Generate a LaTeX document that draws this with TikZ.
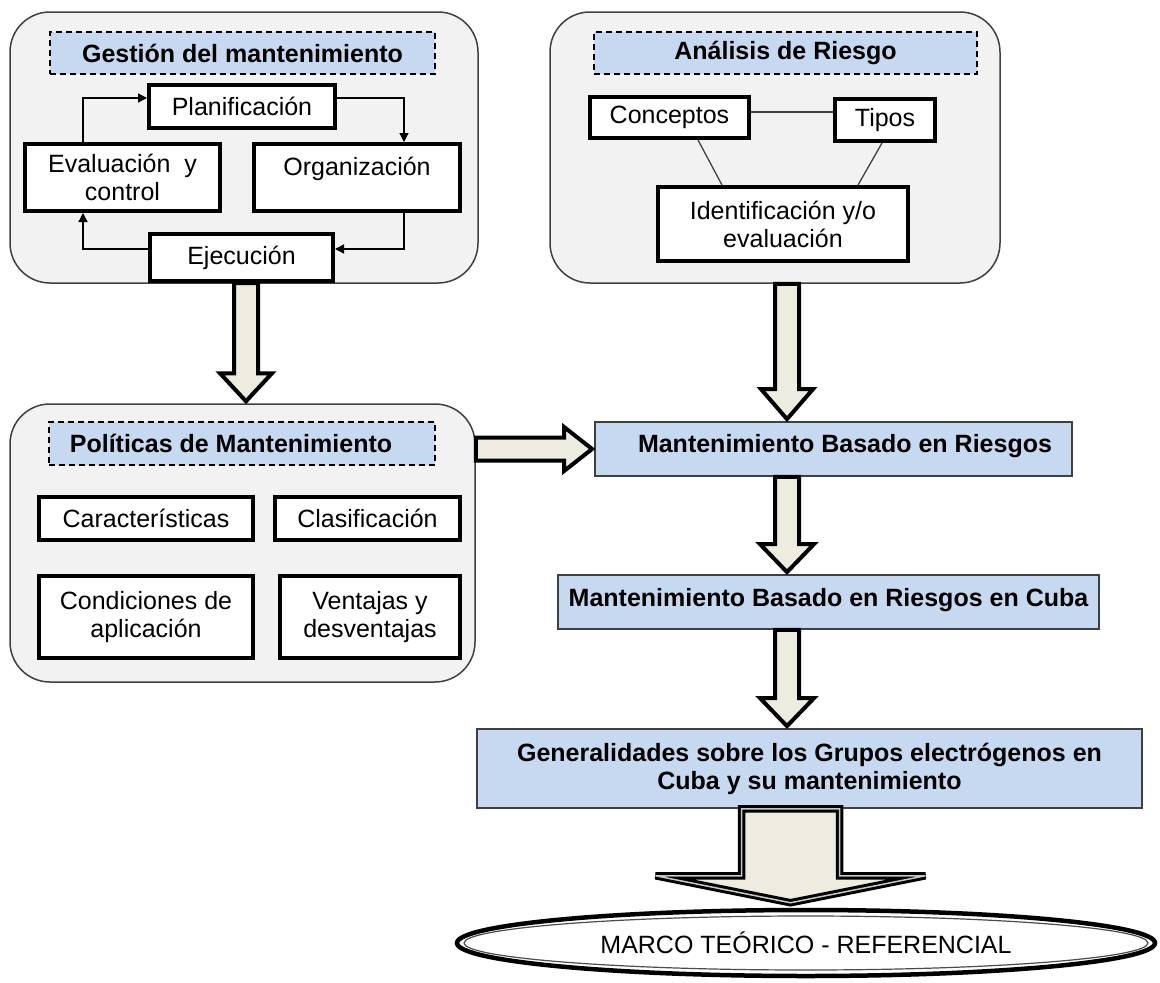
\documentclass[tikz,border=0pt]{standalone}
\usepackage{fontspec}
\setmainfont{Liberation Sans}
\usetikzlibrary{calc,shapes.geometric,arrows.meta}
\definecolor{cont}{HTML}{F2F2F2}
\definecolor{hblue}{HTML}{C6D9F1}
\definecolor{beige}{HTML}{EEECE1}
\definecolor{edgec}{HTML}{404040}
\newcommand\bigf{\fontsize{25pt}{28pt}\selectfont}
\tikzset{
 container/.style={draw=edgec, line width=1.5pt, fill=cont, rounded corners=40pt, inner sep=0pt},
 header/.style={draw=black, dash pattern=on 6pt off 4pt, line width=1.5pt, fill=hblue, font=\bigf\bfseries, inner sep=0pt},
 wbox/.style={draw=black, line width=4pt, fill=white, align=center, inner sep=2pt, font=\bigf},
 bbox/.style={draw=edgec, line width=1.8pt, fill=hblue, font=\bigf\bfseries, align=center, inner sep=2pt},
 sm/.style={line width=1.3pt, -{Triangle[length=9pt,width=9pt]}},
 ln/.style={line width=1.3pt, draw=edgec},
 fatarr/.style={draw=black, line width=4pt, fill=beige, line join=miter},
 bigarr/.style={draw=black, fill=beige, line width=3pt, double=gray!45, double distance=1.5pt, line join=miter},
 ovalbox/.style={ellipse, draw=black, line width=4.5pt, fill=white, inner sep=0pt, font=\bigf},
 ovalin/.style={line width=1.2pt, draw=gray!60!black},
}
% #1 style, #2 start, #3 end, #4 half shaft, #5 half head, #6 head length
\newcommand\fatdown[6]{%
  \draw[#1] let \p1=#2, \p2=#3 in
   (\x1-#4pt,\y1) -- (\x1-#4pt,\y2+#6pt) -- (\x1-#5pt,\y2+#6pt) -- (\x1,\y2)
   -- (\x1+#5pt,\y2+#6pt) -- (\x1+#4pt,\y2+#6pt) -- (\x1+#4pt,\y1) -- cycle;}
\newcommand\fatright[6]{%
  \draw[#1] let \p1=#2, \p2=#3 in
   (\x1,\y1+#4pt) -- (\x2-#6pt,\y1+#4pt) -- (\x2-#6pt,\y1+#5pt) -- (\x2,\y1)
   -- (\x2-#6pt,\y1-#5pt) -- (\x2-#6pt,\y1-#4pt) -- (\x1,\y1-#4pt) -- cycle;}
\begin{document}
\begin{tikzpicture}[x=1pt,y=-1pt]
\useasboundingbox (0,0) rectangle (1160,983);

% ---------- Gestion del mantenimiento
\node[container, minimum width=468pt, minimum height=271pt] (gest) at (244,147.5) {};
\node[header, minimum width=385pt, minimum height=42pt] (ghead) at (242.5,53) {Gestión del mantenimiento};
\node[wbox, minimum width=186pt, minimum height=43pt] (plan) at (242,106.5) {Planificación};
\node[wbox, minimum width=195pt, minimum height=67pt] (eval) at (122.5,177.5) {Evaluación\ \ y\\control};
\node[wbox, minimum width=206pt, minimum height=67pt, text depth=23pt] (org) at (357,177.5) {Organización};
\node[wbox, minimum width=183pt, minimum height=47pt] (ejec) at (241.5,257.5) {Ejecución};

\draw[sm] ($(eval.north west)+(60,0)$) |- ($(plan.west)+(0,-8.5)$);
\draw[sm] ($(plan.east)+(0,-8.5)$) -| ($(org.north east)+(-58,0)$);
\draw[sm] ($(org.south east)+(-58,0)$) |- ($(ejec.east)+(0,-8.5)$);
\draw[sm] ($(ejec.west)+(0,-8.5)$) -| ($(eval.south west)+(60,0)$);

% ---------- Analisis de Riesgo
\node[container, minimum width=450pt, minimum height=271pt] (ana) at (775,147.5) {};
\node[header, minimum width=383pt, minimum height=42pt] (ahead) at (785.5,53) {Análisis de Riesgo};
\node[wbox, minimum width=159pt, minimum height=41pt] (conc) at (669.5,117.5) {Conceptos};
\node[wbox, minimum width=100pt, minimum height=42pt] (tipos) at (885,120) {Tipos};
\node[wbox, minimum width=250pt, minimum height=74pt] (ident) at (783,224) {Identificación y/o\\evaluación};

\draw[ln] ($(conc.east)+(0,-5.5)$) -- ($(tipos.west)+(0,-8)$);
\draw[ln] ($(conc.south)+(28.5,0)$) -- ($(ident.north)+(-61,0)$);
\draw[ln] ($(tipos.south)+(-3,0)$) -- ($(ident.north)+(75,0)$);

% ---------- Politicas de Mantenimiento
\node[container, minimum width=465pt, minimum height=278pt] (pol) at (242.5,543) {};
\node[header, minimum width=386pt, minimum height=43pt] (phead) at (242,443.5) {\hspace*{-22pt}Políticas de Mantenimiento};
\node[wbox, minimum width=214pt, minimum height=43pt] (car) at (146,518.5) {Características};
\node[wbox, minimum width=185pt, minimum height=43pt] (cla) at (367.5,518.5) {Clasificación};
\node[wbox, minimum width=214pt, minimum height=82pt] (cond) at (146,617) {Condiciones de\\aplicación};
\node[wbox, minimum width=180pt, minimum height=82pt] (vent) at (370,617) {Ventajas y\\desventajas};

% ---------- right column
\node[bbox, minimum width=477pt, minimum height=54pt, text depth=12pt] (mbr) at (833.5,449) {\hspace*{23pt}Mantenimiento Basado en Riesgos};
\node[bbox, minimum width=541pt, minimum height=54pt, text depth=10pt] (mbrc) at (828.5,602) {Mantenimiento Basado en Riesgos en Cuba};
\node[bbox, minimum width=665pt, minimum height=79pt] (gen) at (809.5,768.5) {Generalidades sobre los Grupos electrógenos en\\Cuba y su mantenimiento};
\node[ovalbox, minimum width=698pt, minimum height=66pt] (mt) at (806,943) {MARCO TEÓRICO - REFERENCIAL};
\draw[ovalin] (mt.center) ellipse [x radius=342pt, y radius=27pt];

% ---------- fat arrows
\coordinate (axis) at (787,0);
\fatdown{fatarr}{($(ejec.south)+(4.5,0)$)}{($(pol.north)+(0,-2)$)}{12}{26}{28}
\fatdown{fatarr}{(ana.south -| axis)}{($(mbr.north)+(0,-2)$)}{12}{26}{30}
\fatright{fatarr}{(pol.east |- mbr.west)}{($(mbr.west)+(-2,0)$)}{11.5}{22}{28}
\fatdown{fatarr}{(mbr.south -| axis)}{($(mbrc.north)+(0,-2)$)}{12}{27}{28}
\fatdown{fatarr}{(mbrc.south -| axis)}{($(gen.north)+(0,-2)$)}{12}{27}{28}
\fatdown{bigarr}{($(gen.south -| axis)+(3.5,0)$)}{($(mt.north)+(0,-5)$)}{49}{135}{27}
\end{tikzpicture}
\end{document}
